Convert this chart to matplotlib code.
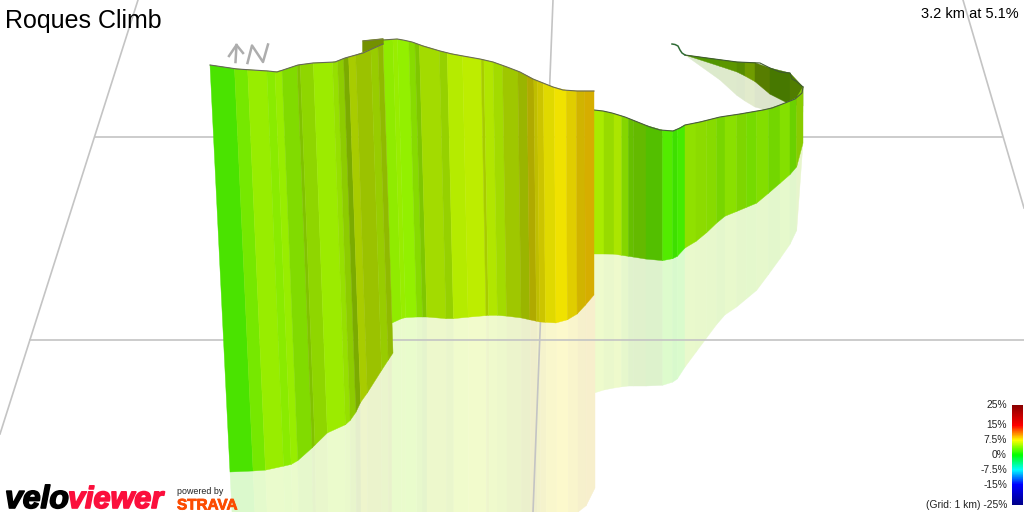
import numpy as np
import matplotlib
matplotlib.use("Agg")
import matplotlib.pyplot as plt
from matplotlib.collections import PolyCollection
from matplotlib.colors import LinearSegmentedColormap
import matplotlib.patheffects as pe

plt.rcParams['font.family'] = ['Liberation Sans', 'DejaVu Sans']

# ---- data: grade per strip, lighting per strip, strip boundaries, outlines (picture coordinates)
title = "Roques Climb"
summary = "3.2 km at 5.1%"
legend_grades = [25, 15, 7.5, 0, -7.5, -15, -25]
legend_labels = ["25%", "15%", "7.5%", "0%", "-7.5%", "-15%", "(Grid: 1 km) -25%"]

a_edges = [215.7,240,253,272,280,287,302,305,318,337,342,348,353,360,375,382,387]
a_grade = [2.4,3.9,4.7,4.4,4.7,4.3,5.0,4.9,4.9,5.0,5.1,5.3,6.2,6.0,5.5,5.7]
a_shade = [.89,.91,.93,.92,.93,.86,.76,.84,.92,.88,.80,.67,.80,.76,.80,.73]
a_top_x = [210,237,268,277,298,313,335,345,363,383]
a_top_y = [65,69,71,72,65,63,62,58,53,44]
a_bot_x = [230,253,267,293,303,315,325,347,355,358,373,383,393]
a_bot_y = [472,471,470,464,457,445,434,424,415,406,385,368,353]

b_edges = [387,396.7,401,412.3,418.3,422.7,442.3,450,465,483.3,486,495,504.3,519.3,528.3,535,538.3,544.3,555,566.7,576.7,585,594]
b_grade = [4.5,4.7,4.6,4.6,4.7,5.5,5.4,5.7,6.0,6.2,5.7,5.6,6.0,6.25,7.7,7.5,7.7,7.8,8.0,8.2,8.4,8.9]
b_shade = [.92,.93,.94,.86,.78,.86,.82,.92,.93,.80,.90,.86,.78,.71,.69,.75,.80,.88,.94,.88,.82,.84]
b_top_x = [383,397,403,412,423,440,452,463,480,493,507,520,533,543,553,563,577,594]
b_top_y = [40,39,40,42,46,51,54,56,59,62,67,72,79,83,87,90,91,91]
b_bot_x = [392,400,408,427,450,470,493,517,540,557,570,580,587,594]
b_bot_y = [323,319,317,317,319,317,315,317,322,323,319,312,303,295]

c_edges = [594,604,614,621.7,628.3,633.3,646,662.7,672.7,677.3,685,696,706.7,716.7,725,736.7,746.7,756.7,768.3,780,790,796.7,803]
c_grade = [5.4,5.1,5.5,4.5,4.1,4.05,3.2,2.55,2.0,2.2,4.8,4.8,4.6,4.2,4.5,4.4,4.1,4.4,4.0,4.3,3.75,4.9]
c_shade = [.92,.86,.90,.84,.75,.73,.75,.92,.88,.92,.88,.86,.86,.84,.88,.84,.86,.87,.84,.88,.82,.80]
c_top_x = [594,603,612,625,640,650,660,673,680,685,700,720,740,763,772,780,795,802,803]
c_top_y = [110,111,113,117,123,127,130,131,128,125,122,117,114,110,108,105,99,93,87]
c_bot_x = [594,613,633,658,670,678,685,700,723,733,757,770,793,798,803]
c_bot_y = [254,254,257,261,260,256,248,239,217,213,203,192,172,165,143]

d_edges = [685,720,737,745,755,770,790,803]
d_grade = [4.0,4.5,4.55,5.3,5.1,4.4,4.8]
d_shade = [.59,.59,.55,.61,.49,.47,.49]
d_top_x = [685,707,737,760,770,780,790,792,796,803]
d_top_y = [55,58,62,63,68,72,73,79,81,87]
d_bot_x = [685,707,737,753,763,780,803]
d_bot_y = [55,62,72,80,88,103,106]

tail_x = [672,675,678,680,682,685]
tail_y = [44,44.5,46,50,53,55]

ab_shadow_x = [230,583,595]
ab_shadow_y = [512,512,488]
c_shadow_x = [594,607,627,658,670,680,685,705,723,733,757,777,793,798,802,803]
c_shadow_y = [393,389,386,386,384,377,367,340,316,310,290,263,240,227,173,143]
d_shadow_x = [685,707,727,740,760,780,803]
d_shadow_y = [55,67,87,98,110,112,112]

olive_x = [363,383,383,363]
olive_y = [41,39,44,52]

grid_lines = [((95,1002),(137,137)), ((30,1024),(340,340)), ((138,0),(0,434)),
              ((553,533),(0,512)), ((963,1024),(0,208))]

# ---- colour scale
stops = [(-25,'#00008b'),(-15,'#0000ff'),(-7.5,'#00ffff'),(0,'#00ff00'),
         (7.5,'#ffff00'),(15,'#ff0000'),(25,'#8b0000')]
cmap = LinearSegmentedColormap.from_list('grade', [((g+25)/50, c) for g, c in stops])
def col(g, s, pale=0.0):
    rgb = np.array(cmap((g+25)/50)[:3]) * s
    return tuple(rgb * (1-pale) + pale)

fig = plt.figure(figsize=(10.24, 5.12), dpi=100, facecolor='white')
ax = fig.add_axes([0, 0, 1, 1])
ax.set_xlim(0, 1024); ax.set_ylim(512, 0); ax.axis('off')

for xs, ys in grid_lines:
    ax.plot(xs, ys, color='#c4c4c4', lw=1.2, zorder=2.5)

def wall(edges, grade, shade, tx, ty, bx, by, xt_range, xb_range, z, pale=0.0):
    e = np.asarray(edges, float)
    xt = np.interp(e, [e[0], e[-1]], xt_range)
    xb = np.interp(e, [e[0], e[-1]], xb_range)
    yt = np.interp(xt, tx, ty); yb = np.interp(xb, bx, by)
    polys, cols = [], []
    for i in range(len(grade)):
        polys.append([(xt[i], yt[i]), (xt[i+1], yt[i+1]), (xb[i+1], yb[i+1]), (xb[i], yb[i])])
        cols.append(col(grade[i], shade[i], pale))
    ax.add_collection(PolyCollection(polys, facecolors=cols, edgecolors=cols, linewidths=0.3, zorder=z))

SH = 0.8
# pale reflected walls under the coloured ones
wall(d_edges, d_grade, d_shade, d_bot_x, d_bot_y, d_shadow_x, d_shadow_y, (685,803), (685,803), 2, SH)
wall(c_edges, c_grade, c_shade, c_bot_x, c_bot_y, c_shadow_x, c_shadow_y, (594,803), (594,803), 2, SH)
wall(a_edges, a_grade, a_shade, a_bot_x, a_bot_y, ab_shadow_x, [512]*3, (230,393), (232,393), 2, SH)
wall(b_edges, b_grade, b_shade, b_bot_x, b_bot_y, ab_shadow_x, ab_shadow_y, (392,595), (392,595), 2, SH)

# far wall, near walls
wall(d_edges, d_grade, d_shade, d_top_x, d_top_y, d_bot_x, d_bot_y, (685,803), (685,803), 3)
ax.plot(d_top_x, d_top_y, color='#3f5a30', lw=0.8, zorder=4)
ax.plot(tail_x, tail_y, color='#2f6b35', lw=1.1, zorder=4)
wall(c_edges, c_grade, c_shade, c_top_x, c_top_y, c_bot_x, c_bot_y, (594,803), (594,803), 5)
ax.plot(c_top_x, c_top_y, color='#4a5a40', lw=0.8, zorder=6)
wall(b_edges, b_grade, b_shade, b_top_x, b_top_y, b_bot_x, b_bot_y, (383,594), (392,594), 7)
ax.plot(b_top_x, b_top_y, color='#6a6a55', lw=0.8, zorder=8)
ax.fill(olive_x, olive_y, color=col(5.9, .57), zorder=8.5)
ax.plot(olive_x[:2], olive_y[:2], color='#777755', lw=0.7, zorder=8.6)
wall(a_edges, a_grade, a_shade, a_top_x, a_top_y, a_bot_x, a_bot_y, (210,383), (230,393), 9)
ax.plot(a_top_x, a_top_y, color='#66665a', lw=0.8, zorder=10)

# north arrow
gr = '#adadad'
ax.plot([236.5, 235.5], [45, 62], color=gr, lw=1.8, zorder=11)
ax.plot([229, 236.5, 243], [56, 45, 53], color=gr, lw=1.8, zorder=11)
ax.plot([247.5, 252, 263, 268], [63, 45.5, 62, 44.5], color=gr, lw=1.8, zorder=11)

# text
ax.text(5, 21, title, fontsize=18, color='black', ha='left', va='center', zorder=12)
ax.text(1019, 14, summary, fontsize=10.5, color='black', ha='right', va='center', zorder=12)

# colour bar
vals = np.linspace(25, -25, 100).reshape(-1, 1)
ax.imshow(vals, cmap=cmap, vmin=-25, vmax=25, extent=(1012, 1023, 505, 405), aspect='auto', zorder=12, interpolation='bilinear')
ax.set_xlim(0, 1024); ax.set_ylim(512, 0)
for g, lab in zip(legend_grades, legend_labels):
    ax.text(1007, 455 - 2*g, lab, fontsize=7.4, color='#222222', ha='right', va='center', zorder=12)

# logos
ax.text(5, 508, "velo", fontsize=23, fontweight='bold', style='italic', color='black', ha='left',
        va='baseline', zorder=12, path_effects=[pe.withStroke(linewidth=1.2, foreground='black')])
ax.text(68, 508, "viewer", fontsize=22, fontweight='bold', style='italic', color='#fb0f3c', ha='left',
        va='baseline', zorder=12, path_effects=[pe.withStroke(linewidth=1.2, foreground='#fb0f3c')])
ax.text(177, 492, "powered by", fontsize=6.4, color='#222222', ha='left', va='center', zorder=12)
ax.text(177, 509.5, "STRAVA", fontsize=11, fontweight='bold', color='#fc4c02', ha='left', va='baseline', zorder=12,
        path_effects=[pe.withStroke(linewidth=0.6, foreground='#fc4c02')])

fig.savefig('out.png', dpi=100)
